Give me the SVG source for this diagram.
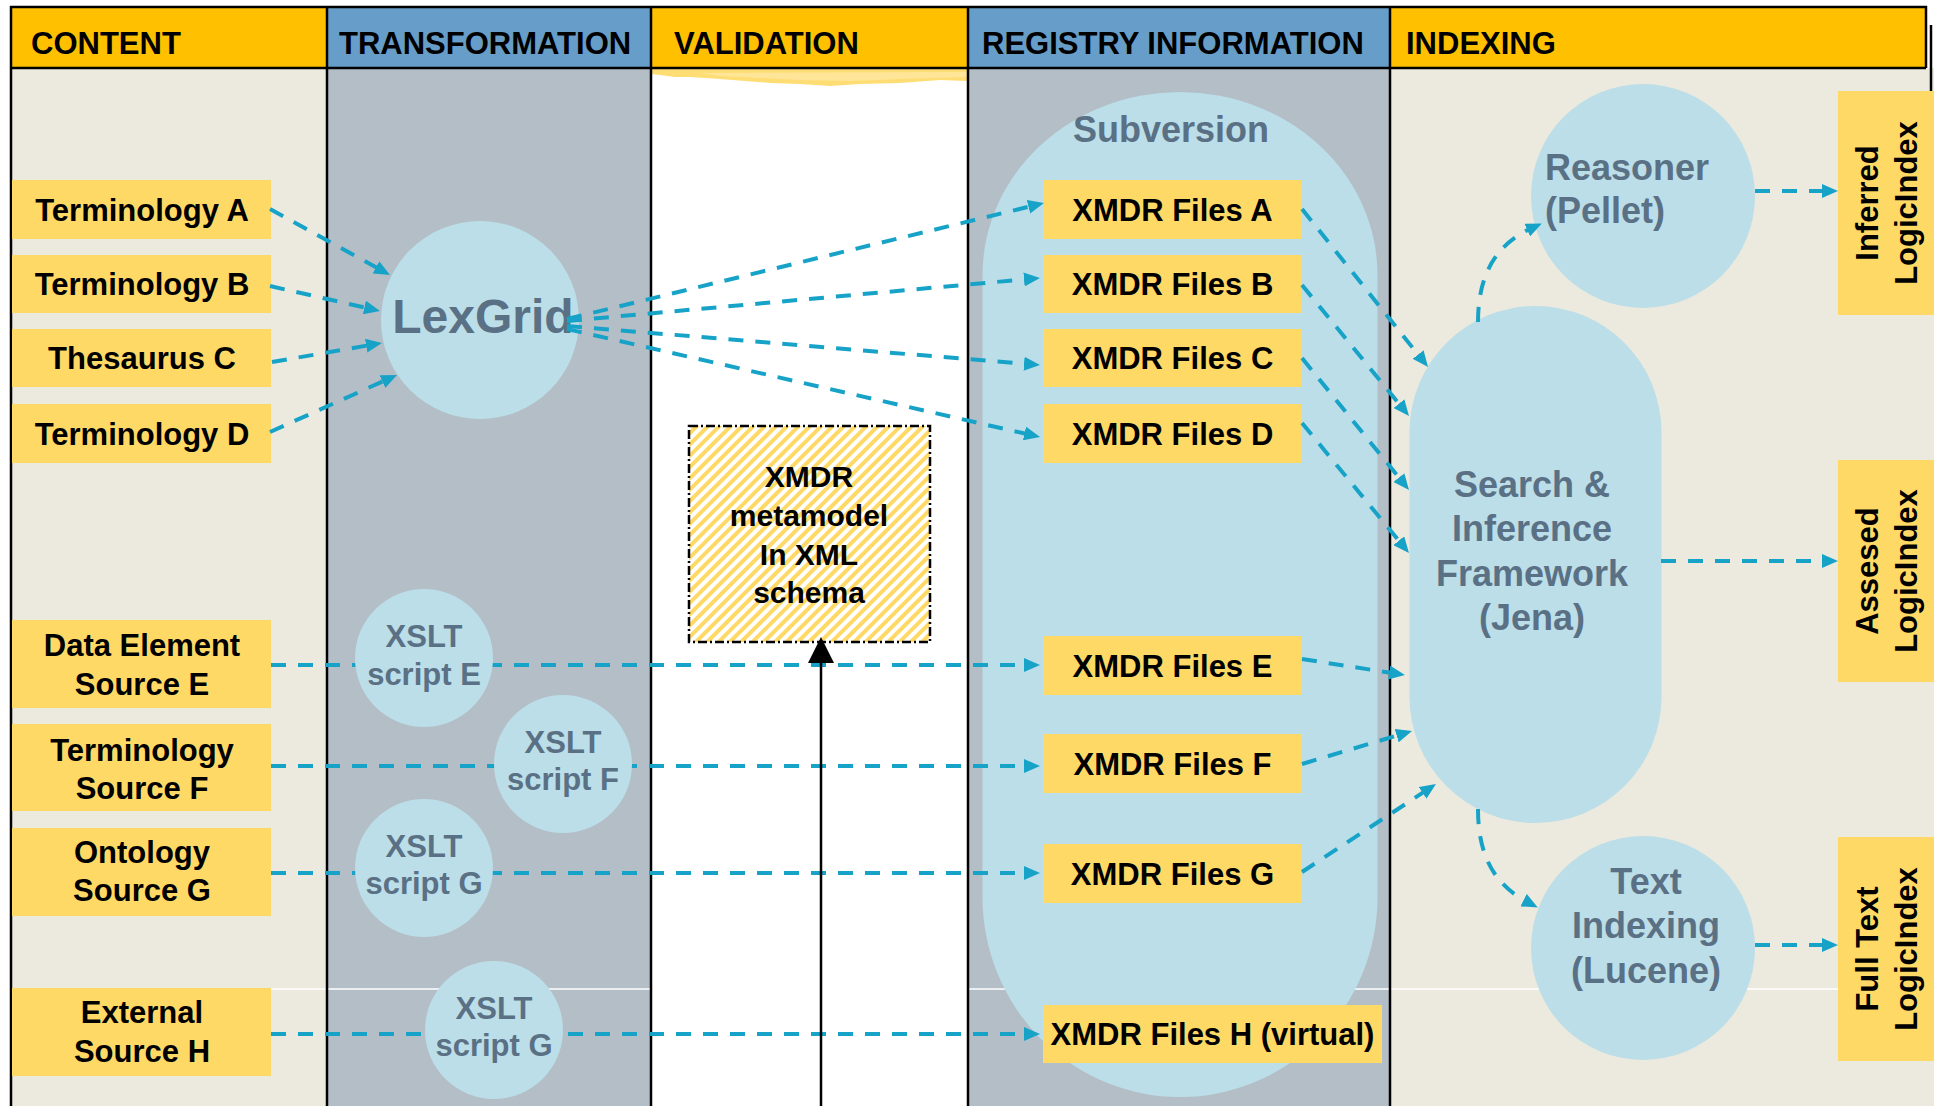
<svg xmlns="http://www.w3.org/2000/svg" width="1934" height="1106" viewBox="0 0 1934 1106">
<defs>
<style>
.hd{font:bold 31px "Liberation Sans",Arial,sans-serif;fill:#000}
.bx{fill:#FFD966}
.t{font:bold 31px "Liberation Sans",Arial,sans-serif;fill:#000;text-anchor:middle}
.c{fill:#BBDEE8}
.ct{font:bold 36px "Liberation Sans",Arial,sans-serif;fill:#5A7084;text-anchor:middle}
.xt{font:bold 31px "Liberation Sans",Arial,sans-serif;fill:#5A7084;text-anchor:middle}
.dl{fill:none;stroke:#17A3C8;stroke-width:4;stroke-dasharray:15 12;marker-end:url(#ah)}
.bl{stroke:#000;stroke-width:2.5}
</style>
<marker id="ah" markerWidth="16" markerHeight="14" refX="6" refY="7" orient="auto" markerUnits="userSpaceOnUse"><path d="M0,0 L16,7 L0,14 z" fill="#17A3C8"/></marker>
<marker id="bk" markerWidth="26" markerHeight="26" refX="4" refY="13" orient="auto" markerUnits="userSpaceOnUse"><path d="M0,0 L26,13 L0,26 z" fill="#000"/></marker>
<pattern id="hatch" width="8" height="8" patternUnits="userSpaceOnUse" patternTransform="rotate(45)"><rect width="8" height="8" fill="#fff"/><rect width="4" height="8" fill="#FFD966"/></pattern>
</defs>

<g id="background">
<rect x="0" y="0" width="1934" height="1106" fill="#fff"/>
<rect x="11" y="68" width="316" height="1038" fill="#ECEADF"/>
<rect x="327" y="68" width="324" height="1038" fill="#B4BEC7"/>
<rect x="651" y="68" width="317" height="1038" fill="#fff"/>
<rect x="968" y="68" width="422" height="1038" fill="#B4BEC7"/>
<rect x="1390" y="68" width="544" height="1038" fill="#ECEADF"/>
<polygon points="652,69 967,69 967,81 940,80 900,83 860,84 830,86 800,84 770,83 745,81 720,79 690,77 675,77 660,75 652,74" fill="#FFD966" opacity="0.9"/>
<polygon points="700,73 967,72 967,77 900,79 850,81 800,80 760,78 720,76" fill="#FFE7A0" opacity="0.8"/>
<line x1="11" y1="989" x2="651" y2="989" stroke="#fff" stroke-width="1.5"/>
<line x1="968" y1="989" x2="1934" y2="989" stroke="#fff" stroke-width="1.5"/>
<rect x="11" y="7" width="316" height="61" fill="#FFC000"/>
<rect x="327" y="7" width="324" height="61" fill="#679EC9"/>
<rect x="651" y="7" width="317" height="61" fill="#FFC000"/>
<rect x="968" y="7" width="422" height="61" fill="#679EC9"/>
<rect x="1390" y="7" width="536" height="61" fill="#FFC000"/>
<line class="bl" x1="10" y1="7" x2="1927" y2="7"/>
<line class="bl" x1="11" y1="68" x2="1926" y2="68"/>
<line class="bl" x1="1926" y1="6" x2="1926" y2="68"/>
<line class="bl" x1="1931" y1="25" x2="1931" y2="91"/>
<line class="bl" x1="11" y1="6" x2="11" y2="1106"/>
<line class="bl" x1="327" y1="6" x2="327" y2="1106"/>
<line class="bl" x1="651" y1="6" x2="651" y2="1106"/>
<line class="bl" x1="968" y1="6" x2="968" y2="1106"/>
<line class="bl" x1="1390" y1="6" x2="1390" y2="1106"/>
<text class="hd" x="31" y="54">CONTENT</text>
<text class="hd" x="339" y="54">TRANSFORMATION</text>
<text class="hd" x="674" y="54">VALIDATION</text>
<text class="hd" x="982" y="54">REGISTRY INFORMATION</text>
<text class="hd" x="1406" y="54">INDEXING</text>
</g>

<g id="node-subversion">
<path class="c" d="M982.5,275 A197.5,183 0 0 1 1377.5,275 L1377.5,897 A197.5,200 0 0 1 982.5,897 Z"/>
<text class="ct" x="1171" y="142">Subversion</text>
</g>
<g id="node-search">
<rect class="c" x="1409.5" y="306" width="252" height="517" rx="126" ry="126"/>
<text class="ct" x="1532" y="497">Search &amp;</text>
<text class="ct" x="1532" y="541">Inference</text>
<text class="ct" x="1532" y="586">Framework</text>
<text class="ct" x="1532" y="630">(Jena)</text>
</g>
<g id="node-reasoner">
<circle class="c" cx="1643" cy="196" r="112"/>
<text class="ct" x="1545" y="180" style="text-anchor:start">Reasoner</text>
<text class="ct" x="1545" y="223" style="text-anchor:start">(Pellet)</text>
</g>
<g id="node-textindexing">
<circle class="c" cx="1643" cy="948" r="112"/>
<text class="ct" x="1646" y="894">Text</text>
<text class="ct" x="1646" y="938">Indexing</text>
<text class="ct" x="1646" y="983">(Lucene)</text>
</g>
<g id="node-lexgrid">
<circle class="c" cx="480" cy="320" r="99"/>
<text x="483" y="333" style="font:bold 48px 'Liberation Sans',Arial,sans-serif;fill:#5A7084;text-anchor:middle">LexGrid</text>
</g>

<g id="node-termA"><rect class="bx" x="12" y="180" width="259" height="59"/><text class="t" x="142" y="220.5">Terminology A</text></g>
<g id="node-termB"><rect class="bx" x="12" y="255" width="259" height="58"/><text class="t" x="142" y="295">Terminology B</text></g>
<g id="node-thesC"><rect class="bx" x="12" y="329" width="259" height="58"/><text class="t" x="142" y="369">Thesaurus C</text></g>
<g id="node-termD"><rect class="bx" x="12" y="404" width="259" height="59"/><text class="t" x="142" y="444.5">Terminology D</text></g>
<g id="node-srcE"><rect class="bx" x="12" y="620" width="259" height="88"/><text class="t" x="142" y="656">Data Element</text><text class="t" x="142" y="695">Source E</text></g>
<g id="node-srcF"><rect class="bx" x="12" y="724" width="259" height="87"/><text class="t" x="142" y="761">Terminology</text><text class="t" x="142" y="799">Source F</text></g>
<g id="node-srcG"><rect class="bx" x="12" y="828" width="259" height="88"/><text class="t" x="142" y="863">Ontology</text><text class="t" x="142" y="901">Source G</text></g>
<g id="node-srcH"><rect class="bx" x="12" y="988" width="259" height="88"/><text class="t" x="142" y="1023">External</text><text class="t" x="142" y="1062">Source H</text></g>

<g id="node-xmdrA"><rect class="bx" x="1043" y="180" width="259" height="59"/><text class="t" x="1172.5" y="220.5">XMDR Files A</text></g>
<g id="node-xmdrB"><rect class="bx" x="1043" y="255" width="259" height="58"/><text class="t" x="1172.5" y="295">XMDR Files B</text></g>
<g id="node-xmdrC"><rect class="bx" x="1043" y="329" width="259" height="58"/><text class="t" x="1172.5" y="369">XMDR Files C</text></g>
<g id="node-xmdrD"><rect class="bx" x="1043" y="404" width="259" height="59"/><text class="t" x="1172.5" y="444.5">XMDR Files D</text></g>
<g id="node-xmdrE"><rect class="bx" x="1043" y="636" width="259" height="59"/><text class="t" x="1172.5" y="676.5">XMDR Files E</text></g>
<g id="node-xmdrF"><rect class="bx" x="1043" y="734" width="259" height="59"/><text class="t" x="1172.5" y="774.5">XMDR Files F</text></g>
<g id="node-xmdrG"><rect class="bx" x="1043" y="844" width="259" height="59"/><text class="t" x="1172.5" y="884.5">XMDR Files G</text></g>
<g id="node-xmdrH"><rect class="bx" x="1043" y="1005" width="339" height="58"/><text class="t" x="1212.5" y="1045">XMDR Files H (virtual)</text></g>

<g id="node-metamodel">
<rect x="689" y="426" width="241" height="216" fill="url(#hatch)" stroke="#000" stroke-width="2.5" stroke-dasharray="9 3 2 3"/>
<text class="t" x="809" y="487" style="font-size:30px">XMDR</text>
<text class="t" x="809" y="526" style="font-size:30px">metamodel</text>
<text class="t" x="809" y="565" style="font-size:30px">In XML</text>
<text class="t" x="809" y="603" style="font-size:30px">schema</text>
</g>

<g id="node-inferred">
<rect class="bx" x="1838" y="91" width="96" height="224"/>
<text class="t" transform="translate(1878,203) rotate(-90)">Inferred</text>
<text class="t" transform="translate(1917,203) rotate(-90)">LogicIndex</text>
</g>
<g id="node-assesed">
<rect class="bx" x="1838" y="460" width="96" height="222"/>
<text class="t" transform="translate(1878,571) rotate(-90)">Assesed</text>
<text class="t" transform="translate(1917,571) rotate(-90)">LogicIndex</text>
</g>
<g id="node-fulltext">
<rect class="bx" x="1838" y="837" width="96" height="224"/>
<text class="t" transform="translate(1878,949) rotate(-90)">Full Text</text>
<text class="t" transform="translate(1917,949) rotate(-90)">LogicIndex</text>
</g>

<g id="connectors">
<path class="dl" d="M270,209 L381.2,270.2"/>
<path class="dl" d="M270,286 L370.2,308.8"/>
<path class="dl" d="M272,362 L372.1,344.7"/>
<path class="dl" d="M270,432 L387.9,379.1"/>
<path class="dl" d="M567,319 L1034.3,205.4"/>
<path class="dl" d="M567,321 L1030,278.9"/>
<path class="dl" d="M567,326 L1030,364.2"/>
<path class="dl" d="M567,329 L1030.3,434.8"/>
<path class="dl" d="M271,665 L1030,665"/>
<path class="dl" d="M271,766 L1030,766"/>
<path class="dl" d="M271,873 L1030,873"/>
<path class="dl" d="M271,1034 L1030,1034"/>
<path class="dl" d="M1302,209 L1421.8,359.2"/>
<path class="dl" d="M1302,285 L1402.7,408.3"/>
<path class="dl" d="M1302,358 L1402.7,482.2"/>
<path class="dl" d="M1302,423 L1402.6,545.3"/>
<path class="dl" d="M1302,659 L1395.1,673.5"/>
<path class="dl" d="M1302,764 L1402.4,733.9"/>
<path class="dl" d="M1302,872 L1427.6,789.5"/>
<path class="dl" d="M1478,322 C1478,272 1498,243 1532.7,227.6"/>
<path class="dl" d="M1478,809 C1478,858 1496,886 1528.9,902.9"/>
<path class="dl" d="M1755,191 L1828,191"/>
<path class="dl" d="M1661,561 L1828,561"/>
<path class="dl" d="M1755,945 L1828,945"/>
<path d="M821,1106 L821,659" stroke="#000" stroke-width="2.5" fill="none" marker-end="url(#bk)"/>
</g>

<g id="node-xsltE"><circle class="c" cx="424" cy="658" r="69"/><text class="xt" x="424" y="647">XSLT</text><text class="xt" x="424" y="685">script E</text></g>
<g id="node-xsltF"><circle class="c" cx="563" cy="764" r="69"/><text class="xt" x="563" y="753">XSLT</text><text class="xt" x="563" y="790">script F</text></g>
<g id="node-xsltG1"><circle class="c" cx="424" cy="868" r="69"/><text class="xt" x="424" y="857">XSLT</text><text class="xt" x="424" y="894">script G</text></g>
<g id="node-xsltG2"><circle class="c" cx="494" cy="1030" r="69"/><text class="xt" x="494" y="1019">XSLT</text><text class="xt" x="494" y="1056">script G</text></g>
</svg>
